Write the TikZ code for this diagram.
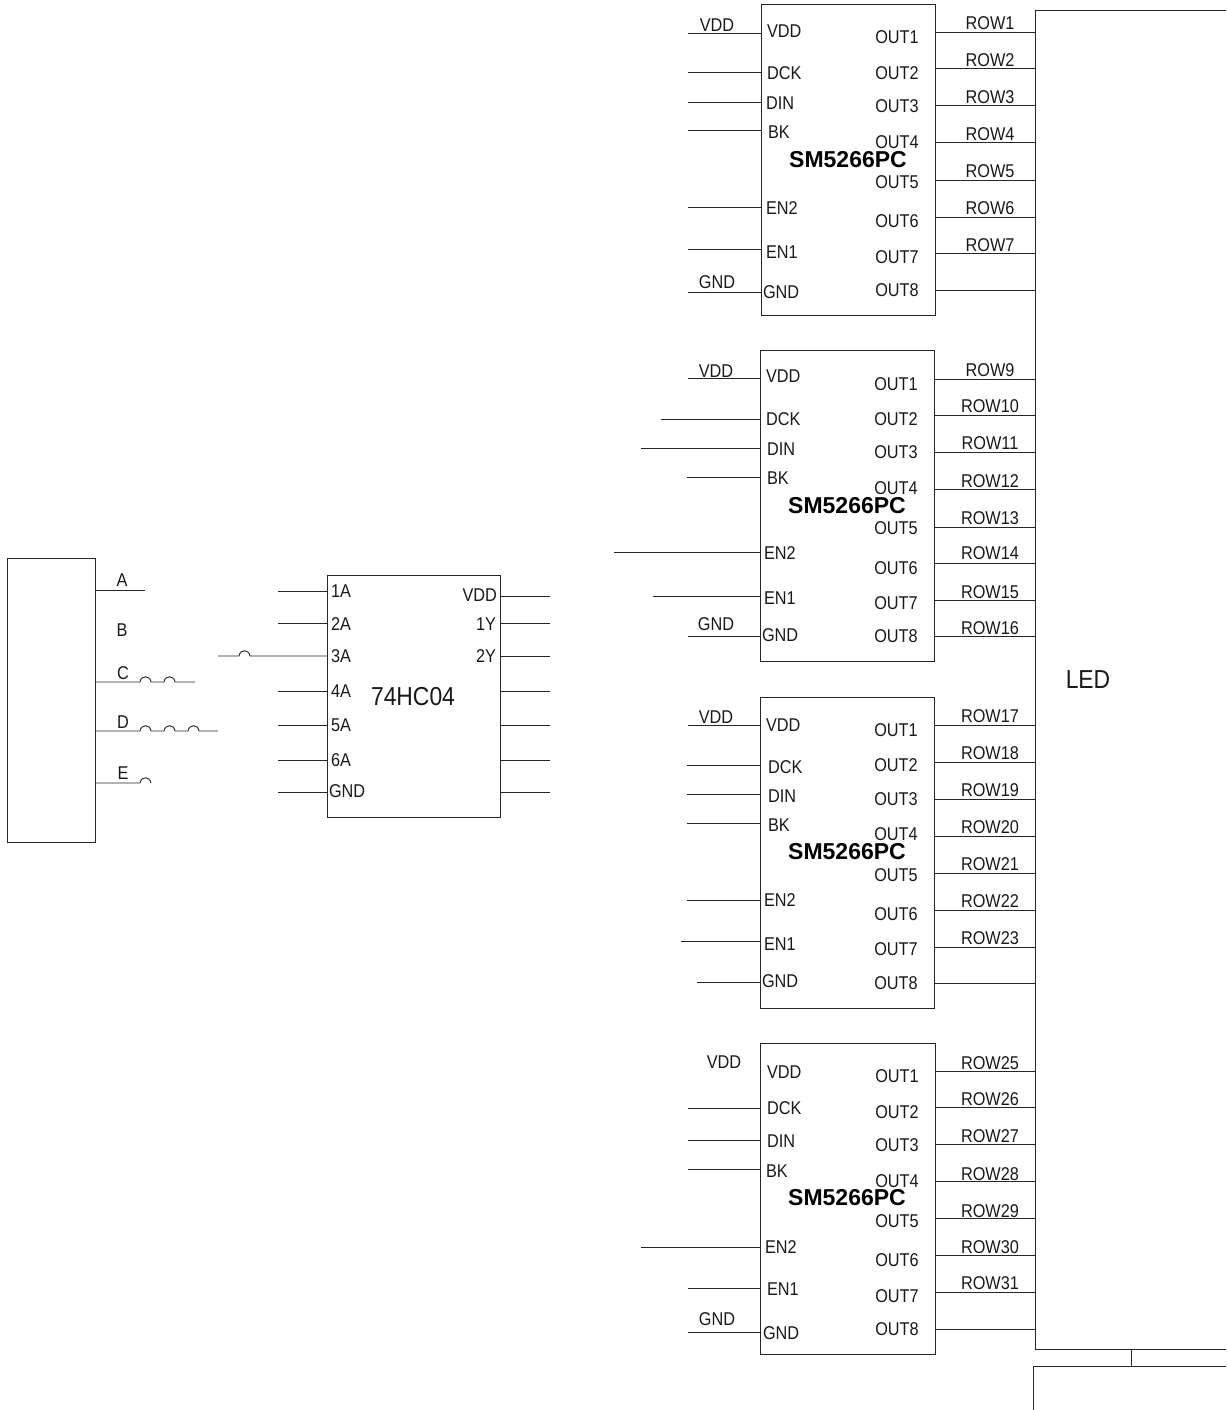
\documentclass[tikz,border=0pt]{standalone}
\usepackage{fontspec}
\setmainfont[FakeStretch=0.88]{Liberation Sans}
\newfontfamily\titlefont[BoldFont={Liberation Sans Bold}]{Liberation Sans}
\newcommand\fs[1]{\fontsize{#1}{#1}\selectfont}
\tikzset{
  wire/.style={line width=0.9pt,draw=black!85,line cap=butt},
  boxw/.style={line width=0.9pt,draw=black!85},
  chip/.style={boxw,rectangle,inner sep=0,outer sep=0,minimum width=#1},
  lab/.style={inner sep=0,outer sep=0,text=black!90,text height=13.3pt,text depth=0pt,font=\fs{18.5}},
  title/.style={inner sep=0,outer sep=0,text=black,text height=16.5pt,text depth=0pt,font=\titlefont\fs{23}\bfseries},
  big/.style={inner sep=0,outer sep=0,text=black!90,text height=18.6pt,text depth=0pt,font=\fs{26}},
}
% left pin: chip, y, x start
\newcommand\lpin[3]{\coordinate (#1L#2) at (#3,#2); \draw[wire] (#1L#2) -- (#1L#2 -| #1.west);}
% right pin: chip, y, x end
\newcommand\rpin[3]{\coordinate (#1R#2) at (#3,#2); \draw[wire] (#1.east |- #1R#2) -- (#1R#2);}
% label: prefix, anchor, text, x, y
\newcommand\lb[5]{\node[lab,anchor=#2] (#1-#3) at (#4,#5) {#3};}
\begin{document}
\begin{tikzpicture}[x=1pt,y=-1pt]
\useasboundingbox (0,0) rectangle (1226,1410);
% LED frame
\coordinate (ledTR) at (1226,10);
\coordinate (ledTL) at (1035.7,10);
\coordinate (ledBL) at (1035.7,1349);
\coordinate (ledBR) at (1226,1349);
\draw[boxw] (ledTR) -- (ledTL) -- (ledBL) -- (ledBR);
\node[big] (led) at (1088,679) {LED};
\coordinate (subTR) at (1226,1366);
\coordinate (subTL) at (1033,1366);
\coordinate (subBL) at (1033,1410);
\draw[boxw] (subTR) -- (subTL) -- (subBL);
\coordinate (tieA) at (1131,1349);
\coordinate (tieB) at (1131,1366);
\draw[wire] (tieA) -- (tieB);
% chips
\node[chip=174pt,minimum height=311pt] (c1) at (848,159.5) {};
\node[chip=174pt,minimum height=311pt] (c2) at (847,505.5) {};
\node[chip=174pt,minimum height=311pt] (c3) at (847,852.5) {};
\node[chip=175pt,minimum height=311pt] (c4) at (847.5,1198.5) {};
\node[title] (t1) at (848,159) {SM5266PC};
\node[title] (t2) at (847,505) {SM5266PC};
\node[title] (t3) at (847,851) {SM5266PC};
\node[title] (t4) at (847,1197) {SM5266PC};
% chip 1
\foreach \y/\x in {33/688,72/688,102/688,130/688,207/688,249/688,292/688} {\lpin{c1}{\y}{\x}}
\foreach \t/\x/\y in {VDD/767/31,DCK/767/73,DIN/766/103,BK/768/132,EN2/766/208,EN1/766/252,GND/763/292} {\lb{c1}{west}{\t}{\x}{\y}}
\foreach \t/\y in {OUT1/37,OUT2/73,OUT3/106,OUT4/142,OUT5/182,OUT6/221,OUT7/257,OUT8/290} {\lb{c1}{center}{\t}{897}{\y}}
\foreach \y in {32,68,105,142,180,217,253,290} {\coordinate (c1X\y) at (ledTL |- 0,\y); \draw[wire] (c1.east |- c1X\y) -- (c1X\y);}
\foreach \t/\y in {ROW1/23,ROW2/60,ROW3/97,ROW4/134,ROW5/171,ROW6/208,ROW7/245} {\lb{c1}{center}{\t}{990}{\y}}
\lb{x1}{center}{VDD}{717}{25}
\lb{x1}{center}{GND}{717}{282}
% chip 2
\foreach \y/\x in {378/688,419/661,448/641,477/687,552/614,596/653,636/688} {\lpin{c2}{\y}{\x}}
\foreach \t/\x/\y in {VDD/766/376,DCK/766/419,DIN/767/449,BK/767/478,EN2/764/553,EN1/764/598,GND/762/635} {\lb{c2}{west}{\t}{\x}{\y}}
\foreach \t/\y in {OUT1/384,OUT2/419,OUT3/452,OUT4/488,OUT5/528,OUT6/568,OUT7/603,OUT8/636} {\lb{c2}{center}{\t}{896}{\y}}
\foreach \y in {379,415,452,489,527,563,600,636} {\coordinate (c2X\y) at (ledTL |- 0,\y); \draw[wire] (c2.east |- c2X\y) -- (c2X\y);}
\foreach \t/\y/\x in {ROW9/370/990,ROW10/406/990,ROW11/443/990,ROW12/481/990,ROW13/518/990,ROW14/553/990,ROW15/592/990,ROW16/628/990} {\lb{c2}{center}{\t}{\x}{\y}}
\lb{x2}{center}{VDD}{716}{371}
\lb{x2}{center}{GND}{716}{624}
% chip 3
\foreach \y/\x in {725/688,765/687,794/687,823/687,900/687,941/681,982/697} {\lpin{c3}{\y}{\x}}
\foreach \t/\x/\y in {VDD/766/725,DCK/768/767,DIN/768/796,BK/768/825,EN2/764/900,EN1/764/944,GND/762/981} {\lb{c3}{west}{\t}{\x}{\y}}
\foreach \t/\y in {OUT1/730,OUT2/765,OUT3/799,OUT4/834,OUT5/875,OUT6/914,OUT7/949,OUT8/983} {\lb{c3}{center}{\t}{896}{\y}}
\foreach \y in {725,762,799,836,873,910,947,983} {\coordinate (c3X\y) at (ledTL |- 0,\y); \draw[wire] (c3.east |- c3X\y) -- (c3X\y);}
\foreach \t/\y in {ROW17/716,ROW18/753,ROW19/790,ROW20/827,ROW21/864,ROW22/901,ROW23/938} {\lb{c3}{center}{\t}{990}{\y}}
\lb{x3}{center}{VDD}{716}{717}
% chip 4
\foreach \y/\x in {1108/688,1140/688,1169/688,1247/641,1288/688,1332/688} {\lpin{c4}{\y}{\x}}
\foreach \t/\x/\y in {VDD/767/1072,DCK/767/1108,DIN/767/1141,BK/766/1171,EN2/765/1247,EN1/767/1289,GND/763/1333} {\lb{c4}{west}{\t}{\x}{\y}}
\foreach \t/\y in {OUT1/1076,OUT2/1112,OUT3/1145,OUT4/1181,OUT5/1221,OUT6/1260,OUT7/1296,OUT8/1329} {\lb{c4}{center}{\t}{897}{\y}}
\foreach \y in {1071,1107,1144,1181,1218,1255,1292,1329} {\coordinate (c4X\y) at (ledTL |- 0,\y); \draw[wire] (c4.east |- c4X\y) -- (c4X\y);}
\foreach \t/\y in {ROW25/1063,ROW26/1099,ROW27/1136,ROW28/1174,ROW29/1211,ROW30/1247,ROW31/1283} {\lb{c4}{center}{\t}{990}{\y}}
\lb{x4}{center}{VDD}{724}{1062}
\lb{x4}{center}{GND}{717}{1319}
% 74HC04
\node[chip=173pt,minimum height=242pt] (u) at (413.5,696) {};
\node[big] (ut) at (413,696) {74HC04};
\foreach \y in {591,623,691,725,760,792} {\lpin{u}{\y}{278}}
\foreach \y in {596,623,656,691,725,760,792} {\rpin{u}{\y}{550}}
\coordinate (u3) at (218,656);
\draw[wire] (u3) -- ++(21,0) .. controls +(1,-7) and +(-1,-7) .. ++(11,0) -- (u3 -| u.west);
\foreach \t/\y in {1A/591,2A/624,3A/656,4A/691,5A/725,6A/760} {\lb{u}{west}{\t}{331}{\y}}
\lb{u}{west}{GND}{329}{791}
\lb{u}{east}{VDD}{497}{595}
\lb{u}{east}{1Y}{496}{624}
\lb{u}{east}{2Y}{496}{656}
% connector block
\node[chip=88pt,minimum height=284pt] (k) at (51,700) {};
\coordinate (kA) at (145,590);
\coordinate (kC) at (195,682);
\coordinate (kD) at (218,731);
\coordinate (kE) at (k.east |- 0,783);
\draw[wire] (k.east |- kA) -- (kA);
\draw[wire] (k.east |- kC) -- ++(45,0) .. controls +(1,-7) and +(-1,-7) .. ++(11,0) -- ++(13,0) .. controls +(1,-7) and +(-1,-7) .. ++(11,0) -- (kC);
\draw[wire] (k.east |- kD) -- ++(45,0) .. controls +(1,-7) and +(-1,-7) .. ++(11,0) -- ++(13,0) .. controls +(1,-7) and +(-1,-7) .. ++(11,0) -- ++(13,0) .. controls +(1,-7) and +(-1,-7) .. ++(11,0) -- (kD);
\draw[wire] (kE) -- ++(45,0) .. controls +(1,-7) and +(-1,-7) .. ++(11,0);
\foreach \t/\x/\y in {A/122/580,B/122/630,C/123/673,D/123/722,E/123/773} {\lb{k}{center}{\t}{\x}{\y}}
\end{tikzpicture}
\end{document}
